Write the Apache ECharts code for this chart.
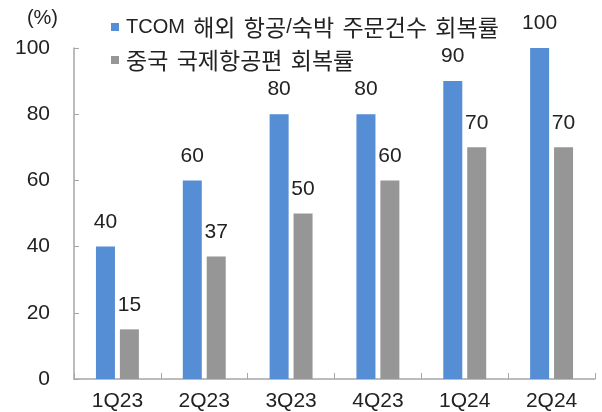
<!DOCTYPE html>
<html>
<head>
<meta charset="utf-8">
<script src="https://cdn.jsdelivr.net/npm/echarts@6/dist/echarts.min.js"></script>
<style>
html,body{margin:0;padding:0;background:#fff;}
#chart{width:602px;height:412px;}
</style>
</head>
<body>
<div id="chart"></div>
<script>
// Quarterly recovery rates (%)
const categories = ['1Q23', '2Q23', '3Q23', '4Q23', '1Q24', '2Q24'];
const tcomRecovery = [40, 60, 80, 80, 90, 100];
const chinaIntlFlights = [15, 37, 50, 60, 70, 70];
const seriesNames = ['TCOM 해외 항공/숙박 주문건수 회복률', '중국 국제항공편 회복률'];
const yTicks = { min: 0, max: 100, interval: 20 };

const FONT = "'Liberation Sans', 'Noto Sans CJK KR', sans-serif";
const KFONT = "'Noto Sans CJK KR', sans-serif";
const TEXT = '#222';
const AXIS = '#a6a6a6';

const chart = echarts.init(document.getElementById('chart'), null, { renderer: 'canvas' });

// Hangul runs get a larger glyph size, spaces a wider gap, Latin stays at base size
function legendText(name) {
  return name.split(/([\uAC00-\uD7A3]+| )/).filter(s => s.length).map(tok => {
    if (tok === ' ') return '{s| }';
    if (/[\uAC00-\uD7A3]/.test(tok)) return '{k|' + tok + '}';
    return '{l|' + tok + '}';
  }).join('');
}

const labelStyle = {
  show: true,
  position: 'top',
  distance: 14,
  color: TEXT,
  fontSize: 21,
  fontFamily: FONT
};

chart.setOption({
  animation: false,
  backgroundColor: '#fff',
  grid: { left: 74, right: 7, top: 48, bottom: 33, containLabel: false },
  legend: {
    orient: 'vertical',
    left: 106,
    top: 7,
    itemWidth: 8,
    itemHeight: 8,
    itemGap: 3,
    icon: 'rect',
    formatter: legendText,
    textStyle: {
      color: TEXT, fontSize: 20, fontFamily: FONT, padding: [0, 0, 0, 2],
      rich: {
        l: { color: TEXT, fontSize: 20, fontFamily: FONT, lineHeight: 24 },
        k: { color: TEXT, fontSize: 23, fontFamily: KFONT, lineHeight: 24 },
        s: { color: TEXT, fontSize: 30, fontFamily: FONT, lineHeight: 24 }
      }
    },
    data: seriesNames
  },
  xAxis: {
    type: 'category',
    data: categories,
    axisLine: { lineStyle: { color: AXIS, width: 1.5 } },
    axisTick: { show: true, inside: true, length: 6, lineStyle: { color: AXIS } },
    axisLabel: { color: TEXT, fontSize: 21, fontFamily: FONT, margin: 12 }
  },
  yAxis: {
    type: 'value',
    min: yTicks.min,
    max: yTicks.max,
    interval: yTicks.interval,
    name: '(%)',
    nameLocation: 'end',
    nameGap: 20,
    nameTextStyle: { color: TEXT, fontSize: 20, fontFamily: FONT, align: 'right', padding: [0, 16, 0, 0] },
    splitLine: { show: false },
    axisLine: { show: true, lineStyle: { color: AXIS, width: 1.5 } },
    axisTick: { show: true, inside: true, length: 5, lineStyle: { color: AXIS } },
    axisLabel: { color: TEXT, fontSize: 21, fontFamily: FONT, margin: 24 }
  },
  series: [
    {
      name: seriesNames[0],
      type: 'bar',
      data: tcomRecovery,
      barWidth: 19,
      barGap: '26%',
      itemStyle: { color: '#558ed5' },
      label: labelStyle
    },
    {
      name: seriesNames[1],
      type: 'bar',
      data: chinaIntlFlights,
      barWidth: 19,
      itemStyle: { color: '#969696' },
      label: labelStyle
    }
  ]
});
</script>
</body>
</html>
